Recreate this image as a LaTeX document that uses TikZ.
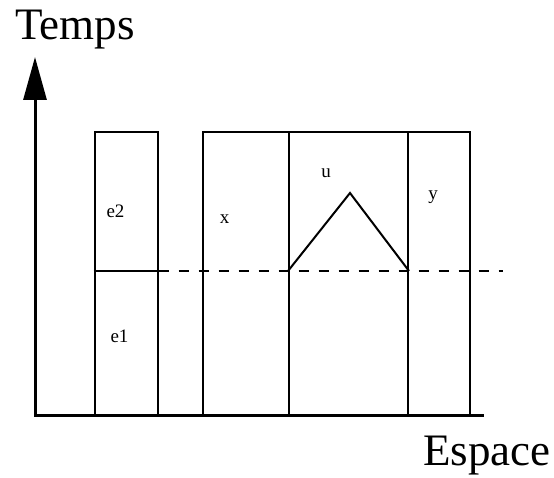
\documentclass[tikz,border=0pt]{standalone}
\usepackage{fontspec}
\setmainfont{Liberation Serif}
\usetikzlibrary{arrows.meta}
\begin{document}
\begin{tikzpicture}[x=1pt,y=-1pt,
  axis/.style={line width=3pt},
  cell/.style={draw,line width=2pt,rectangle,inner sep=0pt,anchor=north west},
  edge/.style={line width=2pt},
  big/.style={inner sep=0pt,font=\fontsize{45}{50}\selectfont},
  lbl/.style={inner sep=0pt,anchor=base,font=\fontsize{19}{22}\selectfont}]
\useasboundingbox (0,0) rectangle (554,478);

% time/space axes
\coordinate (origin) at (35,415);
\coordinate (ttop) at (35,57);
\coordinate (send) at (482,415);

% cells of the space-time plane
\node[cell,minimum width=63pt,minimum height=284pt] (ebox) at (93.5,131) {};
\node[cell,minimum width=86pt,minimum height=284pt] (xbox) at (202,131) {};
\node[cell,minimum width=119pt,minimum height=284pt] (ubox) at (288,131) {};
\node[cell,minimum width=62pt,minimum height=284pt] (ybox) at (407,131) {};

\draw[axis,-{Triangle[length=43pt,width=23pt]}] (origin) -- (ttop);
\draw[axis,line cap=rect] (origin) -- (send);

% event boundary: split of e and the dashed time line
\coordinate (eL) at (ebox.west |- 0,271);
\coordinate (eR) at (ebox.east |- 0,271);
\coordinate (dEnd) at (503,271);
\draw[edge] (eL) -- (eR);
\draw[edge,dash pattern=on 10pt off 10pt] (eR) -- (dEnd);

% wave cone in u
\coordinate (cL) at (ubox.west |- 0,271);
\coordinate (cTop) at (350,193);
\coordinate (cR) at (ubox.east |- 0,271);
\draw[edge] (cL) -- (cTop) -- (cR);

% labels
\node[big,anchor=base west] (temps) at (15,40) {Temps};
\node[big,anchor=base west] (espace) at (423,465) {Espace};
\node[lbl] (le2) at (115.5,218) {e2};
\node[lbl] (le1) at (119.5,342) {e1};
\node[lbl] (lx) at (224.5,224) {x};
\node[lbl] (lu) at (326,178) {u};
\node[lbl] (ly) at (433,200) {y};
\end{tikzpicture}
\end{document}
